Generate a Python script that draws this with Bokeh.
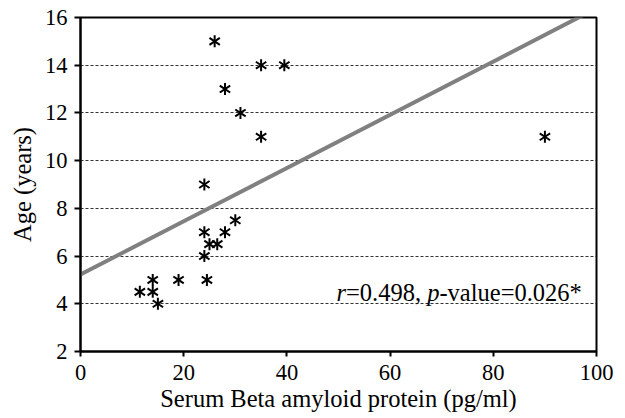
import numpy as np
from bokeh.plotting import figure
from bokeh.models import FixedTicker, Range1d
from bokeh.core.properties import value
from bokeh.embed import file_html
from bokeh.resources import INLINE

# Data
amyloid = [26, 35, 39.5, 28, 31, 35, 90, 24, 30, 24, 28, 25, 26.5, 24, 14, 19, 24.5, 11.5, 14, 15]
age = [15, 14, 14, 13, 12, 11, 11, 9, 7.5, 7, 7, 6.5, 6.5, 6, 5, 5, 5, 4.5, 4.5, 4]
x_ticks = [0, 20, 40, 60, 80, 100]
y_ticks = [2, 4, 6, 8, 10, 12, 14, 16]
stat_italic = ["r", "p"]
stat_normal = ["=0.498, ", "-value=0.026*"]

FONT = "Liberation Serif"

p = figure(width=625, height=418, output_backend="svg", toolbar_location=None,
           x_range=Range1d(0, 100), y_range=Range1d(2, 16),
           min_border_left=80, min_border_right=29, min_border_top=17, min_border_bottom=67)
p.background_fill_color = "white"
p.border_fill_color = "white"
p.outline_line_color = "black"
p.outline_line_width = 2

# grid
p.xgrid.visible = False
p.ygrid.grid_line_color = "#333333"
p.ygrid.grid_line_width = 1
p.ygrid.grid_line_dash = "3 2"

# axes
for ax in (p.xaxis[0], p.yaxis[0]):
    ax.axis_line_color = "black"
    ax.axis_line_width = 2
    ax.major_tick_line_color = "black"
    ax.major_tick_line_width = 2
    ax.major_tick_in = 0
    ax.minor_tick_line_color = None
    ax.major_label_text_font = FONT
    ax.major_label_text_font_size = "22.5px"
    ax.major_label_text_color = "black"
    ax.axis_label_text_font = FONT
    ax.axis_label_text_font_size = "24.5px"
    ax.axis_label_text_font_style = "normal"
    ax.axis_label_text_color = "black"

p.xaxis.ticker = FixedTicker(ticks=x_ticks)
p.yaxis.ticker = FixedTicker(ticks=y_ticks)
p.xaxis.major_tick_out = 5
p.yaxis.major_tick_out = 6
p.xaxis.major_label_standoff = 8
p.yaxis.major_label_standoff = 7
p.xaxis.axis_label = "Serum Beta amyloid protein (pg/ml)"
p.yaxis.axis_label = "Age (years)"
p.xaxis.axis_label_standoff = 2
p.yaxis.axis_label_standoff = 6

# regression line (least squares fit of the data)
slope, intercept = np.polyfit(amyloid, age, 1)
lx = np.array([0, 100])
p.line(lx, intercept + slope * lx, line_color="#808080", line_width=4)

# asterisk markers (two rotated "y" markers make a six-armed asterisk)
p.scatter(amyloid, age, marker="y", size=12, line_color="black", line_width=2)
p.scatter(amyloid, age, marker="y", size=12, angle=np.pi, line_color="black", line_width=2)

# annotation with italic r and p
tx, ty = 49.6, 4.47
p.text(x=[tx, tx], y=[ty, ty], text=stat_italic, x_offset=[0, 90.7],
       text_font=value(FONT), text_font_size="24.5px", text_font_style="italic",
       text_color="black", text_align="left", text_baseline="alphabetic")
p.text(x=[tx, tx], y=[ty, ty], text=stat_normal, x_offset=[9.5, 103.0],
       text_font=value(FONT), text_font_size="24.5px", text_font_style="normal",
       text_color="black", text_align="left", text_baseline="alphabetic")

open("out.html", "w").write(file_html(p, INLINE))
